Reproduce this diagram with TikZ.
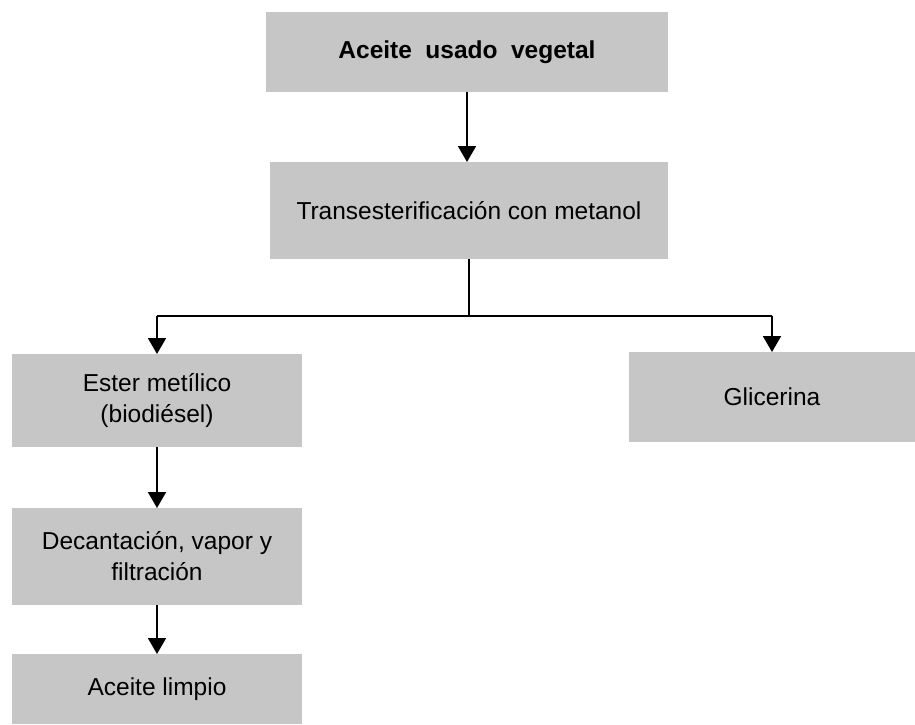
\documentclass[tikz,border=0pt]{standalone}
\usepackage{fontspec}
\setmainfont{Liberation Sans}
\usetikzlibrary{arrows.meta}
\definecolor{boxgray}{RGB}{198,198,198}
\tikzset{
  procbox/.style={fill=boxgray, inner sep=0pt, outer sep=0pt, align=center,
    font=\fontsize{24.5}{31}\selectfont},
  flow/.style={line width=1.8pt, -{Triangle[width=18pt,length=16pt]}}
}
\begin{document}
\begin{tikzpicture}[x=1pt, y=-1pt]
  \useasboundingbox (0,0) rectangle (915,724);
  % boxes
  \node[procbox, minimum width=402pt, minimum height=80pt, font=\fontsize{24.5}{31}\selectfont\bfseries] (aceite) at (467,52) {\spaceskip=0.55em\relax Aceite usado vegetal};
  \node[procbox, minimum width=398pt, minimum height=97pt] (trans) at (469,210.5) {Transesterificación con metanol};
  \node[procbox, minimum width=290pt, minimum height=93pt] (ester) at (157,400.5) {Ester metílico\\(biodiésel)};
  \node[procbox, minimum width=286pt, minimum height=90pt] (glic) at (772,397) {Glicerina};
  \node[procbox, minimum width=290pt, minimum height=97pt] (decant) at (157,556.5) {Decantación, vapor y\\filtración};
  \node[procbox, minimum width=290pt, minimum height=70pt] (limpio) at (157,689) {Aceite limpio};

  % connectors
  \draw[flow] (aceite.south) -- (aceite.south |- trans.north);
  \draw[line width=1.8pt] (trans.south) -- ++(0,57) coordinate (split);
  \draw[line width=2.8pt] (ester.north |- split) -- (glic.north |- split);
  \draw[flow] (ester.north |- split) -- (ester.north);
  \draw[flow] (glic.north |- split) -- (glic.north);
  \draw[flow] (ester.south) -- (decant.north);
  \draw[flow] (decant.south) -- (limpio.north);
\end{tikzpicture}
\end{document}
